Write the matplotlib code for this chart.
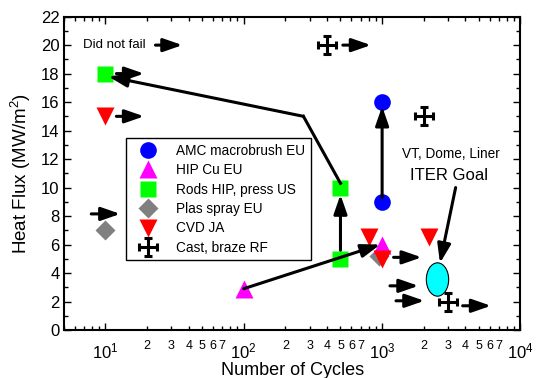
import matplotlib
matplotlib.use("Agg")
import matplotlib.pyplot as plt
from matplotlib.path import Path
from matplotlib.transforms import Affine2D
from matplotlib.ticker import FixedLocator, FuncFormatter, LogLocator, MultipleLocator
import numpy as np

plt.rcParams['font.family'] = 'Liberation Sans'
plt.rcParams['mathtext.fontset'] = 'custom'
plt.rcParams['mathtext.rm'] = 'Liberation Sans'
plt.rcParams['mathtext.default'] = 'regular'

# data points (cycles, heat flux)
amc_x = [1000, 1000]
amc_y = [16, 9]
hip_x = [100, 1000]
hip_y = [2.9, 6]
rods_x = [10, 500, 500]
rods_y = [18, 10, 5]
plas_x = [10, 950]
plas_y = [7, 5.2]
cvd_x = [10, 800, 1000, 2200]
cvd_y = [15, 6.5, 5, 6.5]
cast_x = [400, 2000, 3000]
cast_y = [20, 15, 2]

# "did not fail" arrows
nofail_x0 = [23, 12, 12, 7.9, 520, 1210, 1140, 1260, 3820]
nofail_x1 = [36, 19, 19, 12.8, 830, 1930, 1830, 2020, 6120]
nofail_y = [20, 18, 15, 8.15, 20, 5.1, 3.1, 2.05, 1.7]

# trend arrows (start -> tip)
trend_x0 = [1000, 500, 100, 270, 3400]
trend_y0 = [9.3, 5.6, 2.9, 15, 10.0]
trend_x1 = [1000, 500, 970, 10.5, 2620]
trend_y1 = [15.7, 9.5, 6.0, 17.8, 4.7]
rods_line_x = [500, 270]
rods_line_y = [10.3, 15]

iter_x = [2500]
iter_y = [3.6]

fig = plt.figure(figsize=(5.36, 3.78), dpi=100)
ax = fig.add_axes([0.119, 0.127, 0.852, 0.829])

# cross with caps marker
cross_verts = [(-1, 0), (1, 0), (0, -1), (0, 1),
               (-1, -0.4), (-1, 0.4), (1, -0.4), (1, 0.4),
               (-0.4, -1), (0.4, -1), (-0.4, 1), (0.4, 1)]
cross_codes = [Path.MOVETO, Path.LINETO] * 6
cross = Path(cross_verts, cross_codes)
ellipse = Path.unit_circle().transformed(Affine2D().scale(0.67, 1))

ax.plot(plas_x, plas_y, 'D', color='#808080', ms=10, mec='none', label='Plas spray EU', zorder=3)
ax.plot(amc_x, amc_y, 'o', color='#0000FF', ms=12, mec='none', label='AMC macrobrush EU', zorder=3)
ax.plot(hip_x, hip_y, '^', color='#FF00FF', ms=12.5, mec='none', label='HIP Cu EU', zorder=3)
ax.plot(rods_x, rods_y, 's', color='#00FF00', ms=12, mec='none', label='Rods HIP, press US', zorder=3)
ax.plot(cvd_x, cvd_y, 'v', color='#FF0000', ms=13, mec='none', label='CVD JA', zorder=3)
ax.plot(cast_x, cast_y, marker=cross, ls='none', color='k', ms=13, mew=2.2, label='Cast, braze RF', zorder=3)
ax.plot(iter_x, iter_y, marker=ellipse, ls='none', ms=24, mfc='#00FFFF', mec='k', mew=0.8, zorder=3)

arrow = dict(arrowstyle='-|>,head_length=1.15,head_width=0.4', color='k', lw=2.2,
             shrinkA=0, shrinkB=0)
for x0, x1, y in zip(nofail_x0, nofail_x1, nofail_y):
    ax.annotate('', xy=(x1, y), xytext=(x0, y), arrowprops=arrow, zorder=4)
for x0, y0, x1, y1 in zip(trend_x0, trend_y0, trend_x1, trend_y1):
    ax.annotate('', xy=(x1, y1), xytext=(x0, y0), arrowprops=arrow, zorder=4)
ax.plot(rods_line_x, rods_line_y, color='k', lw=2.2, zorder=4)

ax.text(6.85, 20, 'Did not fail', fontsize=9.5, va='center', ha='left')
ax.text(1390, 12.33, 'VT, Dome, Liner', fontsize=9.8, va='center', ha='left')
ax.text(1600, 10.84, 'ITER Goal', fontsize=12, va='center', ha='left')

ax.set_xscale('log')
ax.set_xlim(5, 1e4)
ax.set_ylim(0, 22)
ax.yaxis.set_major_locator(MultipleLocator(2))
ax.yaxis.set_minor_locator(MultipleLocator(1))
ax.xaxis.set_major_locator(FixedLocator([10, 100, 1000, 10000]))
ax.xaxis.set_minor_locator(LogLocator(subs=np.arange(2, 10)))
ax.xaxis.set_major_formatter(FuncFormatter(lambda v, p: r'$10^{%d}$' % round(np.log10(v))))


def minor_fmt(v, p):
    m = v / 10 ** np.floor(np.log10(v) + 1e-9)
    m = int(round(m))
    if v > 10 and 2 <= m <= 7:
        return str(m)
    return ''


ax.xaxis.set_minor_formatter(FuncFormatter(minor_fmt))
ax.tick_params(which='both', direction='in', top=True, right=True, width=1)
ax.tick_params(which='major', length=5)
ax.tick_params(which='minor', length=3)
ax.tick_params(axis='x', which='major', labelsize=12, pad=8)
ax.tick_params(axis='x', which='minor', labelsize=9, pad=7)
ax.tick_params(axis='y', labelsize=12, pad=3)
for s in ax.spines.values():
    s.set_linewidth(1.5)

ax.set_xlabel('Number of Cycles', fontsize=13, labelpad=1)
ax.set_ylabel('Heat Flux (MW/m$^2$)', fontsize=13.5, labelpad=6)

handles, labels = ax.get_legend_handles_labels()
order = ['AMC macrobrush EU', 'HIP Cu EU', 'Rods HIP, press US', 'Plas spray EU', 'CVD JA', 'Cast, braze RF']
hmap = dict(zip(labels, handles))
leg = ax.legend([hmap[l] for l in order], order, loc='upper left', bbox_to_anchor=(0.136, 0.612),
                borderaxespad=0, fontsize=9.8, frameon=True, fancybox=False, framealpha=1,
                edgecolor='k', labelspacing=0.4, handlelength=2.4, handletextpad=0.9,
                borderpad=0.4, numpoints=1)
leg.get_frame().set_linewidth(1)

fig.savefig('out.png', dpi=100)
